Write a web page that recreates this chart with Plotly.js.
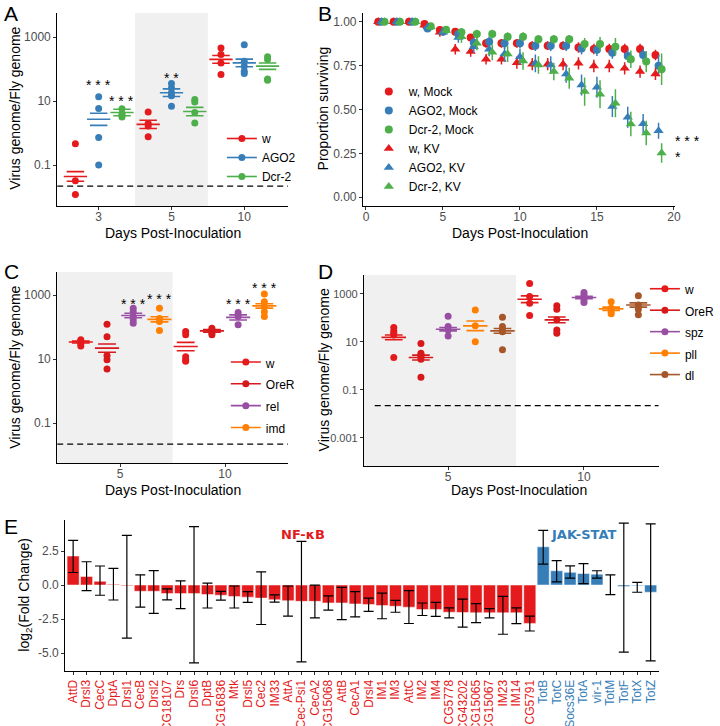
<!DOCTYPE html>
<html>
<head>
<meta charset="utf-8">
<script src="https://cdn.plot.ly/plotly-3.0.1.min.js"></script>
<style>
  body { margin: 0; background: #fff; }
  #plot_div { width: 720px; height: 726px; }
</style>
</head>
<body>
<div id="plot_div"></div>
<script>
// ---------- data ----------
// A: virus genome / fly genome, RNAi mutants (genotype x day x replicate)
const daysA = ['3', '5', '10'];
const genoA = ['w', 'AGO2', 'Dcr-2'];
const ptsA = [
  [[0.46, 0.032, 0.012], [4.57, 2.0, 1.66, 0.76], [457, 282, 155, 67.6]],
  [[13.5, 5.89, 0.72, 0.1], [35.5, 25.7, 18.2, 14.5, 6.92], [575, 174, 123, 85.1, 72.4]],
  [[5.75, 3.98, 3.55, 3.16], [11.2, 9.3, 4.37, 2.04], [240, 200, 49, 44.7]],
];
const meanA = [[0.044, 1.86, 200], [2.69, 18.2, 155], [4.37, 4.68, 123]];
const seLogA = [[0.15, 0.13, 0.12], [0.19, 0.12, 0.12], [0.1, 0.13, 0.1]];

// B: survival after KV / mock injection
const daysB = [1, 2, 3, 4, 5, 6, 7, 8, 9, 10, 11, 12, 13, 14, 15, 16, 17, 18, 19];
const seriesB = ['w, Mock', 'AGO2, Mock', 'Dcr-2, Mock', 'w, KV', 'AGO2, KV', 'Dcr-2, KV'];
const survB = [
  [1, 1, 1, 0.987, 0.953, 0.943, 0.91, 0.877, 0.877, 0.877, 0.864, 0.864, 0.864, 0.854, 0.845, 0.845, 0.845, 0.845, 0.81],
  [1, 1, 1, 0.962, 0.943, 0.93, 0.88, 0.886, 0.877, 0.877, 0.864, 0.864, 0.864, 0.848, 0.84, 0.824, 0.805, 0.81, 0.75],
  [1, 1, 1, 0.975, 0.955, 0.94, 0.93, 0.93, 0.915, 0.915, 0.9, 0.9, 0.9, 0.873, 0.873, 0.858, 0.786, 0.773, 0.729],
  [1, 1, 1, 0.98, 0.94, 0.843, 0.83, 0.786, 0.786, 0.767, 0.758, 0.758, 0.758, 0.763, 0.748, 0.748, 0.735, 0.716, 0.703],
  [1, 1, 1, 0.97, 0.94, 0.91, 0.858, 0.843, 0.816, 0.8, 0.763, 0.754, 0.703, 0.64, 0.627, 0.517, 0.456, 0.419, 0.379],
  [1, 1, 1, 0.97, 0.95, 0.915, 0.877, 0.826, 0.816, 0.776, 0.754, 0.716, 0.678, 0.602, 0.587, 0.536, 0.417, 0.366, 0.252],
];
const errB = [
  [0, 0, 0, 0.01, 0.02, 0.02, 0.02, 0.025, 0.025, 0.025, 0.025, 0.025, 0.025, 0.03, 0.03, 0.03, 0.03, 0.03, 0.03],
  [0, 0, 0, 0.015, 0.02, 0.025, 0.03, 0.03, 0.03, 0.03, 0.03, 0.03, 0.03, 0.035, 0.035, 0.035, 0.035, 0.035, 0.06],
  [0, 0, 0, 0.01, 0.015, 0.025, 0.025, 0.025, 0.025, 0.025, 0.025, 0.025, 0.025, 0.035, 0.04, 0.05, 0.05, 0.06, 0.09],
  [0, 0, 0, 0.01, 0.025, 0.03, 0.03, 0.03, 0.03, 0.035, 0.035, 0.035, 0.035, 0.035, 0.035, 0.035, 0.035, 0.035, 0.035],
  [0, 0, 0, 0.015, 0.02, 0.03, 0.035, 0.04, 0.045, 0.045, 0.05, 0.05, 0.05, 0.06, 0.06, 0.06, 0.06, 0.055, 0.045],
  [0, 0, 0, 0.015, 0.02, 0.035, 0.04, 0.045, 0.045, 0.05, 0.05, 0.05, 0.06, 0.08, 0.08, 0.08, 0.07, 0.07, 0.055],
];

// C: Imd pathway mutants
const daysC = ['5', '10'];
const genoC = ['w', 'OreR', 'rel', 'imd'];
const ptsC = [
  [[39.8, 35.5, 30.2, 25.7], [72.4, 57.5, 11.7, 9.55, 8.5]],
  [[123, 50, 12.9, 9.55, 4.9], [91.2, 75.9, 64.6, 57.5]],
  [[389, 302, 214, 166, 132], [282, 214, 117]],
  [[389, 186, 148, 77.6], [1072, 617, 437, 302, 214]],
];
const meanC = [[33.9, 24.5], [21.9, 75.9], [229, 200], [174, 457]];
const seLogC = [[0.03, 0.13], [0.13, 0.04], [0.07, 0.08], [0.08, 0.07]];

// D: Toll pathway mutants
const daysD = ['5', '10'];
const genoD = ['w', 'OreR', 'spz', 'pll', 'dl'];
const ptsD = [
  [[39.8, 28.8, 22.9, 19.5, 2.24], [2754, 776, 407, 126]],
  [[8.7, 3.39, 2.88, 2.45, 1.9, 0.34], [324, 229, 83.2, 31.6, 22.9]],
  [[117, 43.6, 31.6, 17.8], [1148, 912, 724, 562, 437]],
  [[214, 46.8, 10.2], [479, 251, 182, 148]],
  [[107, 43.6, 31.6, 26.9, 4.68], [832, 347, 229, 135]],
];
const meanD = [[15.5, 603], [2.24, 83.2], [33.9, 708], [46.8, 240], [28.8, 347]];
const seLogD = [[0.1, 0.14], [0.1, 0.12], [0.07, 0.05], [0.2, 0.07], [0.1, 0.09]];

const detectionLimit = 0.022;

// E: log2 fold change of immune genes
const nfkbGenes = ['AttD', 'Drsl3', 'CecC', 'DptA', 'Drsl1', 'CecB', 'Drsl2', 'CG18107', 'Drs', 'Drsl6',
  'DptB', 'CG16836', 'Mtk', 'Drsl5', 'Cec2', 'IM33', 'AttA', 'Cec-Psi1', 'CecA2', 'CG15068', 'AttB',
  'CecA1', 'Drsl4', 'IM1', 'IM3', 'AttC', 'IM2', 'IM4', 'CG5778', 'CG43202', 'CG15065', 'CG15067',
  'IM23', 'IM14', 'CG5791'];
const nfkbLfc = [2.13, 0.63, 0.27, 0.05, -0.05, -0.46, -0.46, -0.63, -0.63, -0.63, -0.7, -0.75, -0.85,
  -0.89, -0.96, -1.08, -1.15, -1.2, -1.2, -1.32, -1.32, -1.39, -1.44, -1.51, -1.56, -1.63, -1.8, -1.8,
  -2.0, -2.02, -2.04, -2.04, -2.04, -2.04, -2.82];
const nfkbLo = [0.92, -0.41, -0.75, -1.1, -3.9, -1.62, -2.08, -1.09, -1.74, -5.72, -1.69, -1.11, -1.69,
  -1.28, -2.9, -1.25, -2.29, -5.65, -2.42, -1.85, -2.54, -2.34, -1.93, -2.48, -2.0, -2.83, -2.24, -2.31,
  -2.41, -3.09, -2.77, -2.41, -3.62, -2.84, -3.38];
const nfkbHi = [3.28, 1.71, 1.4, 1.23, 3.65, 0.75, 1.06, -0.29, 0.31, 4.3, 0.14, -0.46, -0.07, -0.48,
  0.97, -0.72, -0.07, 3.21, 0, -0.8, -0.17, -0.48, -0.96, -0.6, -1.13, -0.41, -1.32, -1.27, -1.68,
  -1.03, -1.36, -1.74, -0.83, -1.68, -2.29];
const jakGenes = ['TotB', 'TotC', 'Socs36E', 'TotA', 'vir-1', 'TotM', 'TotF', 'TotX', 'TotZ'];
const jakLfc = [2.81, 1.05, 0.93, 0.85, 0.8, 0.0, -0.1, -0.05, -0.53];
const jakLo = [1.53, 0.23, 0.51, 0.1, 0.51, -0.7, -4.93, -0.53, -5.58];
const jakHi = [4.02, 1.8, 1.41, 1.58, 1.05, 0.75, 4.55, 0.19, 4.5];

// ---------- style ----------
const FONT = 'Liberation Sans, Arial, sans-serif';
const RED = '#E41A1C', BLUE = '#377EB8', GREEN = '#4DAF4A';
const PURPLE = '#984EA3', ORANGE = '#FF7F00', BROWN = '#A65628', RED2 = '#D7191C';
const W = 720, H = 726;
const X = px => px / W;
const Y = px => 1 - px / H;

function segs(xs, ys, half) {
  const x = [], y = [];
  xs.forEach((v, i) => { x.push(v - half, v + half, null); y.push(ys[i], ys[i], null); });
  return {x, y};
}

// dot + mean/SE panel (A, C, D)
function dotPanel(p) {
  const traces = [];
  const n = p.genos.length;
  // detection limit
  traces.push({type: 'scatter', mode: 'lines', xaxis: p.xa, yaxis: p.ya, x: p.limitX,
    y: [detectionLimit, detectionLimit], line: {color: 'black', width: 1.2, dash: '6px,4px'},
    showlegend: false, hoverinfo: 'skip'});
  p.genos.forEach((g, gi) => {
    const col = p.colors[gi];
    const off = (gi - (n - 1) / 2) * p.dodge;
    const px = [], py = [];
    p.pts[gi].forEach((vals, di) => vals.forEach(v => { px.push(di + 1 + off); py.push(v); }));
    traces.push({type: 'scatter', mode: 'markers', x: px, y: py, xaxis: p.xa, yaxis: p.ya,
      marker: {color: col, size: 7}, showlegend: false, hoverinfo: 'y'});

    const cx = p.means[gi].map((m, di) => di + 1 + off);
    const mean = segs(cx, p.means[gi], p.meanHalf);
    const hi = segs(cx, p.means[gi].map((m, di) => m * Math.pow(10, p.se[gi][di])), p.seHalf);
    const lo = segs(cx, p.means[gi].map((m, di) => m / Math.pow(10, p.se[gi][di])), p.seHalf);
    traces.push({type: 'scatter', mode: 'lines', xaxis: p.xa, yaxis: p.ya,
      x: [...mean.x, ...hi.x, ...lo.x], y: [...mean.y, ...hi.y, ...lo.y],
      line: {color: col, width: 1.6}, showlegend: false, hoverinfo: 'skip'});

    // legend key only
    traces.push({type: 'scatter', mode: 'lines+markers', x: [null], y: [null], xaxis: p.xa, yaxis: p.ya,
      name: p.nameWrap ? `<span style="font-size:12px">${g}</span>` : g, legend: p.legend,
      line: {color: col, width: 1.6}, marker: {color: col, size: 7}});
  });
  return traces;
}

const traces = [];
traces.push(...dotPanel({xa: 'x', ya: 'y', genos: genoA, pts: ptsA, means: meanA, se: seLogA,
  colors: [RED, BLUE, GREEN], dodge: 0.32, meanHalf: 0.16, seHalf: 0.12, legend: 'legend',
  limitX: [0.43, 3.6]}));
traces.push(...dotPanel({xa: 'x3', ya: 'y3', genos: genoC, pts: ptsC, means: meanC, se: seLogC,
  colors: [RED, RED2, PURPLE, ORANGE], dodge: 0.25, meanHalf: 0.115, seHalf: 0.085, legend: 'legend3',
  limitX: [0.4, 2.6], nameWrap: true}));
traces.push(...dotPanel({xa: 'x4', ya: 'y4', genos: genoD, pts: ptsD, means: meanD, se: seLogD,
  colors: [RED, RED2, PURPLE, ORANGE, BROWN], dodge: 0.2, meanHalf: 0.09, seHalf: 0.065, legend: 'legend4',
  limitX: [0.46, 2.55], nameWrap: true}));

// B survival
const colB = [RED, BLUE, GREEN, RED, BLUE, GREEN];
const symB = ['circle', 'circle', 'circle', 'triangle-up', 'triangle-up', 'triangle-up'];
const dodgeB = [-0.2, 0, 0.2, -0.2, 0, 0.2];
seriesB.forEach((name, i) => {
  traces.push({type: 'scatter', mode: 'markers', xaxis: 'x2', yaxis: 'y2', name, legend: 'legend2',
    x: daysB.map(d => d + dodgeB[i]), y: survB[i],
    marker: {color: colB[i], symbol: symB[i], size: symB[i] === 'circle' ? 8 : 9},
    error_y: {type: 'data', array: errB[i], color: colB[i], thickness: 1.5, width: 0}});
});

// E bars
function barTrace(genes, lfc, lo, hi, col) {
  return {type: 'bar', xaxis: 'x5', yaxis: 'y5', x: genes, y: lfc, width: 0.9, showlegend: false,
    marker: {color: col, line: {color: 'white', width: 0.5}},
    error_y: {type: 'data', symmetric: false,
      array: hi.map((h, i) => h - lfc[i]), arrayminus: lo.map((l, i) => lfc[i] - l),
      color: 'black', thickness: 1.2, width: 5}};
}
traces.push(barTrace(nfkbGenes, nfkbLfc, nfkbLo, nfkbHi, RED));
traces.push(barTrace(jakGenes, jakLfc, jakLo, jakHi, BLUE));

const allGenes = [...nfkbGenes, ...jakGenes];
const geneText = [
  ...nfkbGenes.map(g => `<span style="color:${RED}">${g}</span>`),
  ...jakGenes.map(g => `<span style="color:${BLUE}">${g}</span>`),
];

// ---------- layout ----------
const ax = o => Object.assign({
  showline: true, linecolor: 'black', linewidth: 1, ticks: 'outside', ticklen: 3, tickwidth: 1,
  tickcolor: '#333', showgrid: false, zeroline: false, fixedrange: true,
  tickfont: {family: FONT, size: 12, color: '#4D4D4D'},
}, o);

const legendBase = {bgcolor: 'rgba(0,0,0,0)', font: {family: FONT, size: 12, color: 'black'},
  xanchor: 'left', yanchor: 'top', borderwidth: 0};

const ann = (text, x, y, o = {}) => Object.assign({text, x: X(x), y: Y(y), xref: 'paper', yref: 'paper',
  xanchor: 'center', yanchor: 'middle', showarrow: false,
  font: {family: FONT, size: 14, color: 'black'}}, o);
const letter = (t, x, y) => ann(t, x, y, {xanchor: 'left', font: {family: FONT, size: 21, color: 'black'}});
const ytitle = (t, x, y) => ann(t, x, y, {textangle: -90});
const star = (t, xref, yref, x, y) => ({text: t, xref, yref, x, y, showarrow: false,
  xanchor: 'center', yanchor: 'middle', font: {family: FONT, size: 14, color: 'black'}});

const posA = (di, gi) => di + 1 + (gi - 1) * 0.32;
const posC = (di, gi) => di + 1 + (gi - 1.5) * 0.25;

const layout = {
  width: W, height: H, margin: {l: 0, r: 0, t: 0, b: 0},
  paper_bgcolor: 'white', plot_bgcolor: 'white',
  font: {family: FONT}, barmode: 'overlay', hovermode: false,

  xaxis: ax({domain: [X(58), X(292)], range: [0.43, 3.6], tickvals: [1, 2, 3], ticktext: daysA,
    anchor: 'y', ticklabelstandoff: -3}),
  yaxis: ax({domain: [Y(206), Y(13)], type: 'log', range: [-2.28, 3.75], tickvals: [0.1, 10, 1000],
    ticktext: ['0.1', '10', '1000'], anchor: 'x'}),
  xaxis2: ax({domain: [X(368), X(685)], range: [-0.2, 20.1], tickvals: [0, 5, 10, 15, 20],
    anchor: 'y2', ticklabelstandoff: -3}),
  yaxis2: ax({domain: [Y(206), Y(13)], range: [-0.05, 1.05], tickvals: [0, 0.25, 0.5, 0.75, 1],
    ticktext: ['0.00', '0.25', '0.50', '0.75', '1.00'], anchor: 'x2'}),
  xaxis3: ax({domain: [X(58), X(292)], range: [0.4, 2.6], tickvals: [1, 2], ticktext: daysC,
    anchor: 'y3', ticklabelstandoff: -3}),
  yaxis3: ax({domain: [Y(463), Y(272)], type: 'log', range: [-2.25, 3.72], tickvals: [0.1, 10, 1000],
    ticktext: ['0.1', '10', '1000'], anchor: 'x3'}),
  xaxis4: ax({domain: [X(369), X(668)], range: [0.38, 2.55], tickvals: [1, 2], ticktext: daysD,
    anchor: 'y4', ticklabelstandoff: -3}),
  yaxis4: ax({domain: [Y(466), Y(275)], type: 'log', range: [-4.17, 3.79], tickvals: [0.001, 0.1, 10, 1000],
    ticktext: ['0.001', '0.1', '10', '1000'], anchor: 'x4',
    tickfont: {family: FONT, size: 11, color: '#4D4D4D'}}),
  xaxis5: ax({domain: [X(66), X(668)], type: 'category', categoryorder: 'array', categoryarray: allGenes,
    range: [-0.6, 43.6], tickvals: allGenes, ticktext: geneText, tickangle: -90, anchor: 'y5'}),
  yaxis5: ax({domain: [Y(671), Y(520)], range: [-6.32, 4.78], tickvals: [-5, -2.5, 0, 2.5],
    ticktext: ['-5.0', '-2.5', '0.0', '2.5'], anchor: 'x5'}),

  legend: Object.assign({}, legendBase, {x: X(225), y: Y(124)}),
  legend2: Object.assign({}, legendBase, {x: X(374), y: Y(77)}),
  legend3: Object.assign({}, legendBase, {x: X(229), y: Y(346), font: {family: FONT, size: 14.5, color: 'black'}}),
  legend4: Object.assign({}, legendBase, {x: X(654), y: Y(273), font: {family: FONT, size: 14.2, color: 'black'}}),

  shapes: [
    {type: 'rect', xref: 'x', yref: 'y domain', x0: 1.5, x1: 2.5, y0: 0, y1: 1,
      fillcolor: '#F0F0F0', line: {width: 0}, layer: 'below'},
    {type: 'rect', xref: 'x3', yref: 'y3 domain', x0: 0.4, x1: 1.5, y0: 0, y1: 1,
      fillcolor: '#F0F0F0', line: {width: 0}, layer: 'below'},
    {type: 'rect', xref: 'x4', yref: 'y4 domain', x0: 0.38, x1: 1.5, y0: 0, y1: 1,
      fillcolor: '#F0F0F0', line: {width: 0}, layer: 'below'},
  ],

  annotations: [
    letter('A', 2, 13), letter('B', 320, 13), letter('C', 2, 271), letter('D', 320, 271), letter('E', 2, 526),
    ytitle('Virus genome/Fly genome', 15, 108),
    ytitle('Proportion surviving', 328, 108),
    ytitle('Virus genome/Fly genome', 15, 367),
    ytitle('Virus genome/Fly genome', 329, 370),
    ytitle('log<sub>2</sub>(Fold Change)', 25, 595),
    ann('Days Post-Inoculation', 175, 233),
    ann('Days Post-Inoculation', 527, 233),
    ann('Days Post-Inoculation', 175, 490),
    ann('Days Post-Inoculation', 526, 490),

    star('* * *', 'x', 'y', posA(0, 1), 1.5),
    star('* * *', 'x', 'y', posA(0, 2), 1.0),
    star('* *', 'x', 'y', posA(1, 1), 1.72),
    ann('* * *', 682, 141, {xanchor: 'left'}),
    ann('*', 682, 157, {xanchor: 'left'}),
    star('* * *', 'x3', 'y3', posC(0, 2), 2.72),
    star('* * *', 'x3', 'y3', posC(0, 3), 2.88),
    star('* * *', 'x3', 'y3', posC(1, 2), 2.72),
    star('* * *', 'x3', 'y3', posC(1, 3), 3.22),

    ann('NF-κB', 307, 534, {font: {family: 'DejaVu Sans', size: 13, color: RED, weight: 'bold'}}),
    ann('JAK-STAT', 592, 534, {font: {family: 'DejaVu Sans', size: 13, color: BLUE, weight: 'bold'}}),
  ],
};

Plotly.newPlot('plot_div', traces, layout, {staticPlot: true, displayModeBar: false});
</script>
</body>
</html>
